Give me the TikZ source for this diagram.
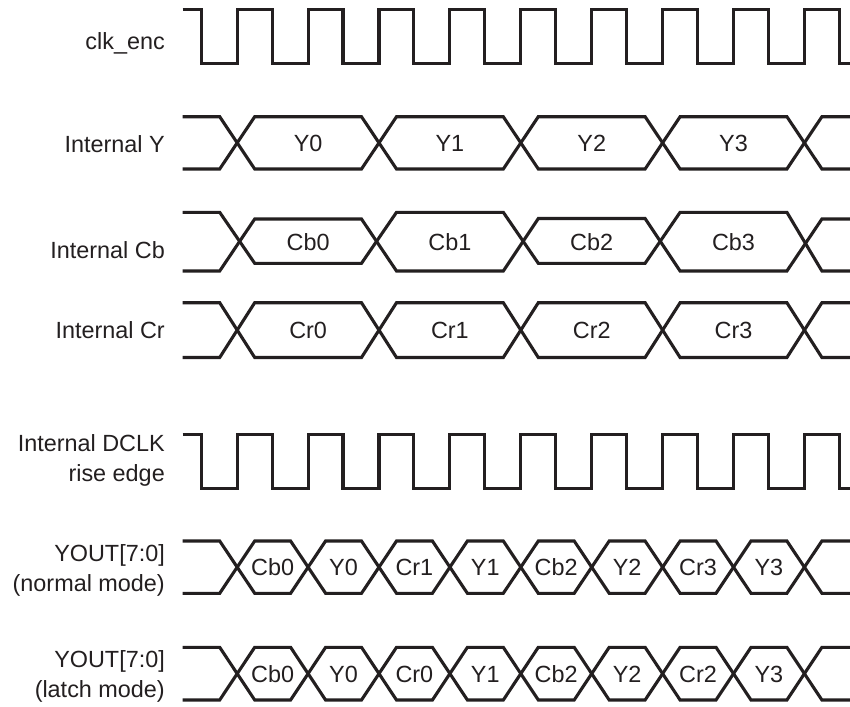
\documentclass[tikz,border=0pt]{standalone}
\usepackage{fontspec}
\setmainfont{Liberation Sans}
\definecolor{ink}{HTML}{231F20}
\tikzset{
  sig/.style={draw=ink, line width=3.1pt, line join=miter},
  lbl/.style={anchor=base east, inner sep=0pt, text=ink, font=\fontsize{23.4}{27}\selectfont},
  val/.style={anchor=base, inner sep=0pt, text=ink, font=\fontsize{23.4}{27}\selectfont}
}
% internal bus rows: crossings every two clock periods
\newcommand{\introw}[2]{%
  \draw[sig] (182.7,#1)--(219.7,#1)--(254.7,#2)--(361.5,#2)--(396.5,#1)--(503.3,#1)--(538.3,#2)--(645.1,#2)--(680.1,#1)--(786.9,#1)--(821.9,#2)--(851,#2);
  \draw[sig] (182.7,#2)--(219.7,#2)--(254.7,#1)--(361.5,#1)--(396.5,#2)--(503.3,#2)--(538.3,#1)--(645.1,#1)--(680.1,#2)--(786.9,#2)--(821.9,#1)--(851,#1);}
% output bus rows: crossings every clock period
\newcommand{\youtrow}[2]{%
  \draw[sig] (182.7,#1)--(219.7,#1)--(254.7,#2)--(290.6,#2)--(325.6,#1)--(361.5,#1)--(396.5,#2)--(432.4,#2)--(467.4,#1)--(503.3,#1)--(538.3,#2)--(574.2,#2)--(609.2,#1)--(645.1,#1)--(680.1,#2)--(716,#2)--(751,#1)--(786.9,#1)--(821.9,#2)--(851,#2);
  \draw[sig] (182.7,#2)--(219.7,#2)--(254.7,#1)--(290.6,#1)--(325.6,#2)--(361.5,#2)--(396.5,#1)--(432.4,#1)--(467.4,#2)--(503.3,#2)--(538.3,#1)--(574.2,#1)--(609.2,#2)--(645.1,#2)--(680.1,#1)--(716,#1)--(751,#2)--(786.9,#2)--(821.9,#1)--(851,#1);}
\newcommand{\clkrow}[2]{%
  \draw[sig] (182.7,#1) \foreach \k in {0,...,8} { -- ({201.2+70.9*\k},#1) -- ({201.2+70.9*\k},#2) -- ({237.2+70.9*\k},#2) -- ({237.2+70.9*\k},#1) } -- (839.3,#1) -- (839.3,#2) -- (851,#2);}
\begin{document}
\begin{tikzpicture}[x=1pt, y={(0pt,-1pt)}]
\useasboundingbox[fill=white] (0,0) rectangle (850,706);

% labels
\node[lbl] (lclk) at (165,50) {clk\_enc};
\node[lbl] (ly) at (165,152.3) {Internal Y};
\node[lbl] (lcb) at (165,258.5) {Internal Cb};
\node[lbl] (lcr) at (165,338.5) {Internal Cr};
\node[lbl] (ldclk) at (165,451.7) {Internal DCLK};
\node[lbl] (ldclkb) at (165,481.7) {rise edge};
\node[lbl] (lyn) at (165,561) {YOUT[7:0]};
\node[lbl] (lynb) at (165,591) {(normal mode)};
\node[lbl] (lyl) at (165,667.5) {YOUT[7:0]};
\node[lbl] (lylb) at (165,697) {(latch mode)};

% clocks
\clkrow{9.3}{63.3}
\clkrow{434.3}{488.7}

% Internal Y
\introw{116.7}{169}
\foreach \t/\x [count=\i] in {Y0/308.1, Y1/449.9, Y2/591.7, Y3/733.5}
  \node[val] (y\i) at (\x,151.3) {\t};

% Internal Cb (uneven cell heights)
\draw[sig] (182.7,212.3)--(219.7,212.3)--(254.7,263.3)--(361.5,263.3)--(396.5,212.3)--(503.3,212.3)--(538.3,263.3)--(645.1,263.3)--(680.1,212.3)--(786.9,212.3)--(821.9,271)--(851,271);
\draw[sig] (182.7,271)--(219.7,271)--(254.7,219)--(361.5,219)--(396.5,271)--(503.3,271)--(538.3,218.5)--(645.1,218.5)--(680.1,271)--(786.9,271)--(821.9,219)--(851,219);
\foreach \t/\x [count=\i] in {Cb0/308.1, Cb1/449.9, Cb2/591.7, Cb3/733.5}
  \node[val] (cb\i) at (\x,250) {\t};

% Internal Cr
\introw{302.7}{357.5}
\foreach \t/\x [count=\i] in {Cr0/308.1, Cr1/449.9, Cr2/591.7, Cr3/733.5}
  \node[val] (cr\i) at (\x,338.4) {\t};

% YOUT normal
\youtrow{541}{593.3}
\foreach \t/\x [count=\i] in {Cb0/272.6, Y0/343.5, Cr1/414.4, Y1/485.3, Cb2/556.2, Y2/627.1, Cr3/698.0, Y3/768.9}
  \node[val] (n\i) at (\x,575.5) {\t};

% YOUT latch
\youtrow{647.3}{700}
\foreach \t/\x [count=\i] in {Cb0/272.6, Y0/343.5, Cr0/414.4, Y1/485.3, Cb2/556.2, Y2/627.1, Cr2/698.0, Y3/768.9}
  \node[val] (l\i) at (\x,682) {\t};
\end{tikzpicture}
\end{document}
